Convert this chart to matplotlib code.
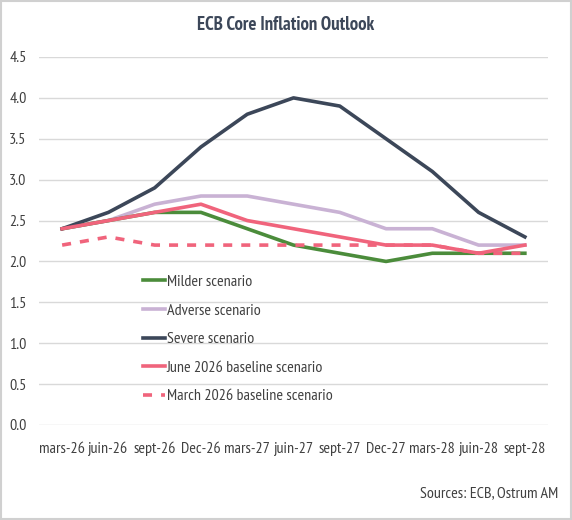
import matplotlib
matplotlib.use("Agg")
import matplotlib.pyplot as plt
from matplotlib.patches import Rectangle

plt.rcParams['font.family'] = ['PT Sans Narrow', 'DejaVu Sans']

dates = ["mars-26", "juin-26", "sept-26", "Dec-26", "mars-27", "juin-27",
         "sept-27", "Dec-27", "mars-28", "juin-28", "sept-28"]
milder = [2.4, 2.5, 2.6, 2.6, 2.4, 2.2, 2.1, 2.0, 2.1, 2.1, 2.1]
adverse = [2.4, 2.5, 2.7, 2.8, 2.8, 2.7, 2.6, 2.4, 2.4, 2.2, 2.2]
severe = [2.4, 2.6, 2.9, 3.4, 3.8, 4.0, 3.9, 3.5, 3.1, 2.6, 2.3]
june_base = [2.4, 2.5, 2.6, 2.7, 2.5, 2.4, 2.3, 2.2, 2.2, 2.1, 2.2]
march_base = [2.2, 2.3, 2.2, 2.2, 2.2, 2.2, 2.2, 2.2, 2.2, 2.1, 2.1]

fig = plt.figure(figsize=(5.72, 5.2), dpi=100)
ax = fig.add_axes([39/572, 1-425/520, 509/572, 368/520])

x = range(len(dates))
ax.plot(x, milder, color="#4b8c3b", lw=2.6, label="Milder scenario", zorder=3)
ax.plot(x, adverse, color="#c9b2d4", lw=2.6, label="Adverse scenario", zorder=2)
ax.plot(x, severe, color="#3c4759", lw=2.6, label="Severe scenario", zorder=4)
ax.plot(x, june_base, color="#f0647c", lw=2.6, label="June 2026 baseline scenario", zorder=5)
ax.plot(x, march_base, color="#f0647c", lw=2.6, ls=(0, (2.5, 2.5)),
        label="March 2026 baseline scenario", zorder=6)

ax.set_xlim(-0.5, 10.5)
ax.set_ylim(0, 4.5)
ax.set_yticks([i * 0.5 for i in range(10)])
ax.set_yticklabels([f"{i * 0.5:.1f}" for i in range(10)])
ax.set_xticks(list(x))
ax.set_xticklabels(dates)
ax.grid(axis="y", color="#d9d9d9", lw=1)
ax.set_axisbelow(True)
for s in ax.spines.values():
    s.set_visible(False)
ax.tick_params(length=0, labelsize=11.5, colors="#404040")
ax.tick_params(axis="x", pad=12)
ax.tick_params(axis="y", pad=9)

ax.legend(loc="upper left", bbox_to_anchor=(0.204, 0.408), frameon=False,
          fontsize=11.5, handlelength=1.4, handletextpad=0.1, labelspacing=0.9,
          borderpad=0, borderaxespad=0, labelcolor="#404040")

fig.text(0.5, 0.952, "ECB Core Inflation Outlook", ha="center", va="center",
         fontsize=13.5, fontweight="bold", color="#3c4759")
fig.text(0.976, 0.052, "Sources: ECB, Ostrum AM", ha="right", va="center",
         fontsize=11.5, color="#404040")

fig.patches.append(Rectangle((0.002, 0.002), 0.996, 0.996, transform=fig.transFigure,
                             fill=False, edgecolor="#d0d0d0", lw=1.5))

fig.savefig("out.png", dpi=100)
